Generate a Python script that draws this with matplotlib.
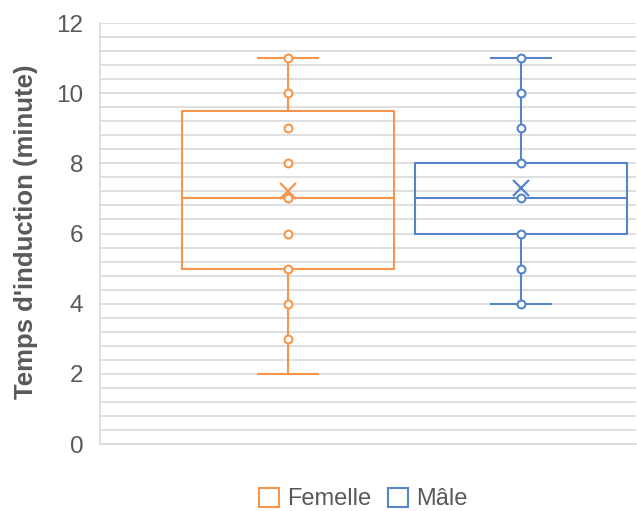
import matplotlib
matplotlib.use("Agg")
import matplotlib.pyplot as plt
from matplotlib.ticker import MultipleLocator
from matplotlib.patches import Patch

plt.rcParams['font.family'] = ['Liberation Sans', 'DejaVu Sans']

groups = ["Femelle", "Mâle"]
colors = ["#F7964A", "#5585C8"]
q1 = [5.0, 6.0]
median = [7.0, 7.0]
q3 = [9.5, 8.0]
whislo = [2.0, 4.0]
whishi = [11.0, 11.0]
means = [7.2, 7.3]
inner_points = [
    [3, 4, 5, 6, 7, 8, 9, 10, 11],
    [4, 5, 6, 7, 8, 9, 10, 11],
]

fig = plt.figure(figsize=(6.37, 5.11), dpi=100)
ax = fig.add_axes([100/637, 67/511, 536/637, 421/511])

positions = [1, 2]
for i, g in enumerate(groups):
    st = [dict(label=g, q1=q1[i], med=median[i], q3=q3[i],
               whislo=whislo[i], whishi=whishi[i], mean=means[i], fliers=[])]
    c = colors[i]
    ax.bxp(st, positions=[positions[i]], widths=0.91, capwidths=0.26,
           showmeans=True, showfliers=False, patch_artist=False,
           boxprops=dict(color=c, linewidth=1.5),
           whiskerprops=dict(color=c, linewidth=1.5),
           capprops=dict(color=c, linewidth=1.5),
           medianprops=dict(color=c, linewidth=1.5),
           meanprops=dict(marker='x', markeredgecolor=c, markersize=11,
                          markeredgewidth=1.6),
           zorder=3)
    ax.scatter([positions[i]] * len(inner_points[i]), inner_points[i],
               s=32, facecolor='white', edgecolor=c, linewidth=1.5, zorder=4)

ax.set_xlim(0.193, 2.494)
ax.set_ylim(0, 12)
ax.yaxis.set_major_locator(MultipleLocator(2))
ax.yaxis.set_minor_locator(MultipleLocator(0.4))
ax.grid(True, which='both', axis='y', color='#D9D9D9', linewidth=1.2, zorder=0)
ax.set_axisbelow(True)
ax.set_xticks([])
ax.tick_params(axis='y', which='both', length=0, labelsize=17.5, colors='#595959', pad=12)
for s in ['top', 'right']:
    ax.spines[s].set_visible(False)
for s in ['left', 'bottom']:
    ax.spines[s].set_color('#D9D9D9')
    ax.spines[s].set_linewidth(1.2)

fig.text(26/637, (511 - 232)/511, "Temps d'induction (minute)", rotation=90,
         fontsize=18.5, fontweight='bold', color='#595959', ha='center', va='center')

handles = [Patch(facecolor='white', edgecolor=colors[i], linewidth=1.5, label=groups[i])
           for i in range(2)]
fig.legend(handles=handles, loc='center', bbox_to_anchor=(363/637, 12/511),
           ncol=2, frameon=False, fontsize=17, labelcolor='#595959',
           handlelength=0.85, handleheight=0.85, handletextpad=0.35, columnspacing=0.7)

fig.savefig("out.png", dpi=100)
